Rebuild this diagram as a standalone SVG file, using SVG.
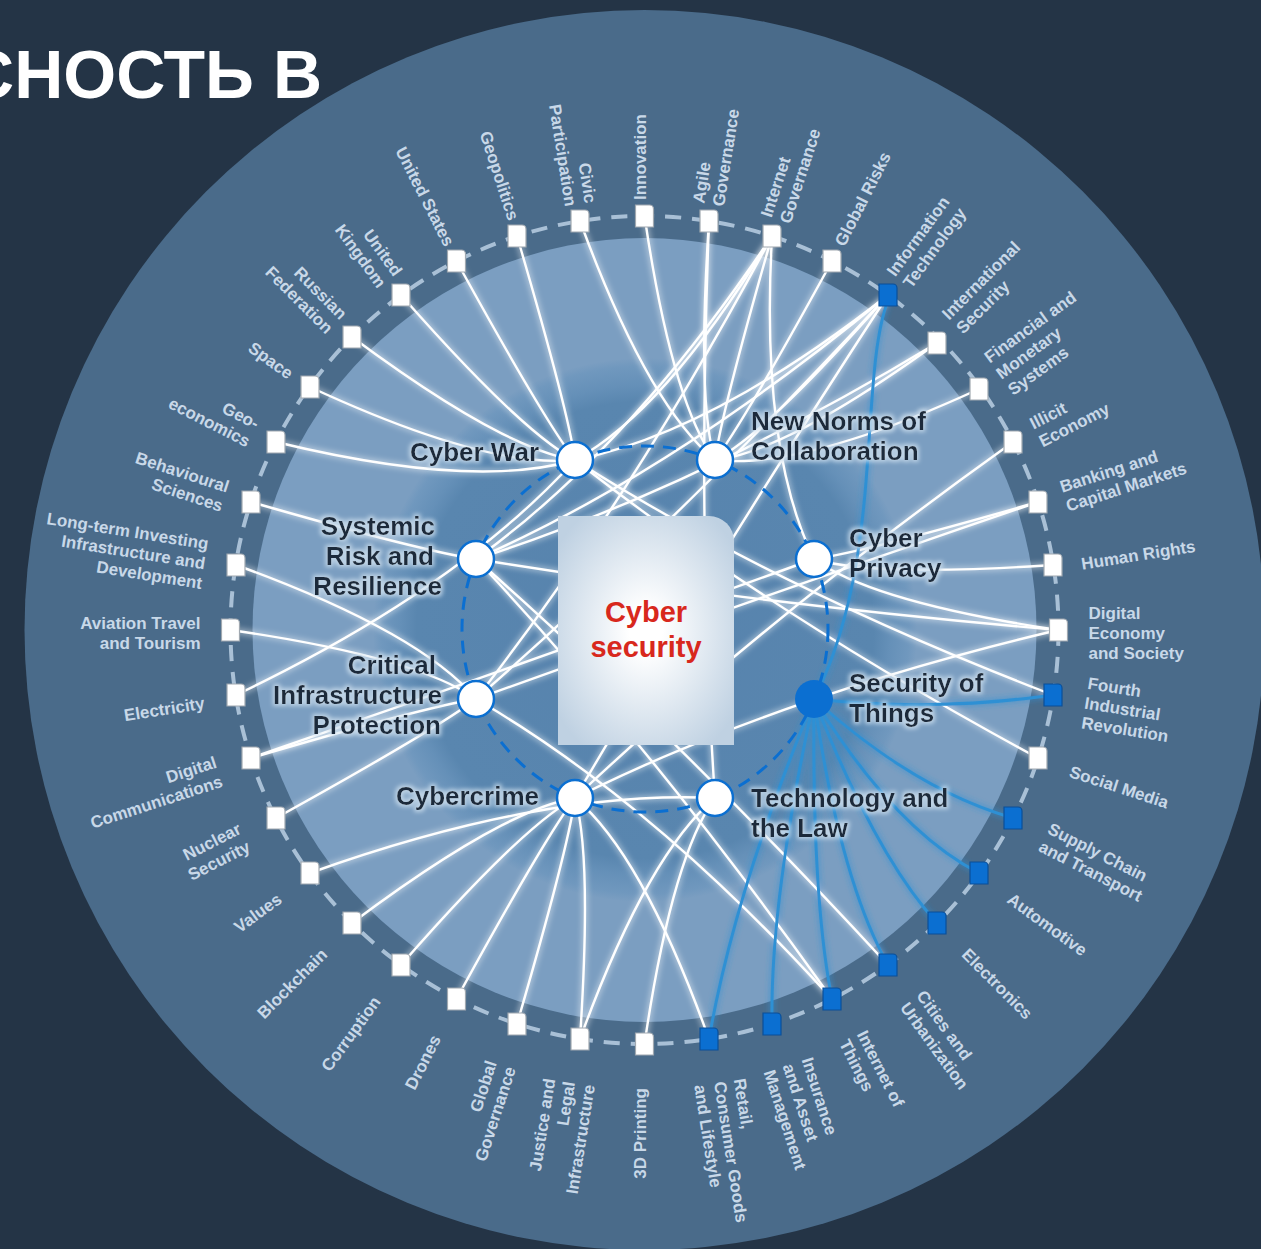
<svg xmlns="http://www.w3.org/2000/svg" width="1261" height="1249" viewBox="0 0 1261 1249">
<defs>
<style>
.lbl{font-family:"Liberation Sans",Arial,sans-serif;font-weight:bold;font-size:17px;fill:#c8d8e8}
.l{text-anchor:end}
.hl{font-family:"Liberation Sans",Arial,sans-serif;font-weight:bold;font-size:26px;fill:#1d2a3a}
.hub{fill:#fff;stroke:#0b6fd1;stroke-width:2.5}
.sw{fill:#fff;stroke:#a0a8b0;stroke-width:1.2}
.sb{fill:#0b6fd1;stroke:#0b4f98;stroke-width:1.2}
.cw path{fill:none;stroke:#fff;stroke-width:2.4}
.cb path{fill:none;stroke:#2f90d4;stroke-width:3}
</style>
<path id="sq" d="M-9,-11 H5 A4,4 0 0 1 9,-7 V11 H-9 Z"/>
<radialGradient id="inner" cx="645" cy="630" r="272" gradientUnits="userSpaceOnUse">
<stop offset="0" stop-color="#5783ad"/>
<stop offset="0.84" stop-color="#5986af"/>
<stop offset="0.9" stop-color="#6590b8"/>
<stop offset="0.97" stop-color="#7098be"/>
<stop offset="1" stop-color="#7b9ec1"/>
</radialGradient>
<radialGradient id="card" cx="0.5" cy="0.5" r="0.62">
<stop offset="0.15" stop-color="#ffffff"/>
<stop offset="1" stop-color="#bfd1e2"/>
</radialGradient>
<filter id="glow" x="-5%" y="-5%" width="110%" height="110%">
<feGaussianBlur in="SourceGraphic" stdDeviation="3" result="b"/>
<feMerge><feMergeNode in="b"/><feMergeNode in="SourceGraphic"/></feMerge>
</filter>
<filter id="halo" x="-10%" y="-20%" width="120%" height="140%">
<feMorphology in="SourceAlpha" operator="dilate" radius="2" result="d"/>
<feGaussianBlur in="d" stdDeviation="2" result="db"/>
<feFlood flood-color="#c9dcec" flood-opacity="0.85"/>
<feComposite in2="db" operator="in" result="h"/>
<feMerge><feMergeNode in="h"/><feMergeNode in="SourceGraphic"/></feMerge>
</filter>
</defs>

<rect width="1261" height="1249" fill="#243446"/>
<circle cx="644.5" cy="630" r="620" fill="#4a6b8a"/>
<circle cx="644.5" cy="630" r="392" fill="#7b9ec1"/>
<circle cx="645" cy="630" r="272" fill="url(#inner)"/>
<circle cx="644.5" cy="630" r="414" fill="none" stroke="#a9c0d6" stroke-width="4" stroke-dasharray="16 11"/>

<g id="connectors" filter="url(#glow)">
<g class="cw">
<path d="M580,221 Q647,404 715,460"/>
<path d="M644.5,216 Q672,402 715,460"/>
<path d="M709,221 Q697,404 715,460"/>
<path d="M709,221 Q697,536 715,798"/>
<path d="M772,236 Q667,410 575,460"/>
<path d="M772,236 Q629,449 476,559"/>
<path d="M772,236 Q629,503 476,699"/>
<path d="M772,236 Q760,449 814,559"/>
<path d="M772,236 Q722,410 715,460"/>
<path d="M832,261 Q745,420 715,460"/>
<path d="M888,295 Q712,433 575,460"/>
<path d="M888,295 Q767,433 715,460"/>
<path d="M888,295 Q674,472 476,559"/>
<path d="M888,295 Q674,526 476,699"/>
<path d="M888,295 Q712,565 575,798"/>
<path d="M937,343 Q786,452 715,460"/>
<path d="M937,343 Q693,490 476,559"/>
<path d="M979,389 Q803,470 715,460"/>
<path d="M1013,442 Q761,622 575,798"/>
<path d="M1038,502 Q864,552 814,559"/>
<path d="M1038,502 Q732,607 476,699"/>
<path d="M1053,565 Q870,577 814,559"/>
<path d="M1058,630 Q740,602 476,559"/>
<path d="M1058,630 Q872,602 814,559"/>
<path d="M1058,630 Q779,696 575,798"/>
<path d="M1053,695 Q777,589 575,460"/>
<path d="M1038,758 Q771,614 575,460"/>
<path d="M888,965 Q674,733 476,559"/>
<path d="M832,999 Q652,801 476,699"/>
<path d="M832,999 Q652,746 476,559"/>
<path d="M709,1039 Q643,855 575,798"/>
<path d="M644.5,1044 Q672,857 715,798"/>
<path d="M580,1039 Q592,855 575,798"/>
<path d="M580,1039 Q647,855 715,798"/>
<path d="M517,1024 Q568,849 575,798"/>
<path d="M456.5,999 Q544,839 575,798"/>
<path d="M401,965 Q522.5,826 575,798"/>
<path d="M352,923 Q503,810 575,798"/>
<path d="M310,873 Q542,790 715,798"/>
<path d="M276,818 Q435,730 476,699"/>
<path d="M251,758 Q425,707 476,699"/>
<path d="M251,758 Q557,652 814,559"/>
<path d="M236,695 Q458,589 575,460"/>
<path d="M230.5,630 Q417,657 476,699"/>
<path d="M236,565 Q420,632 476,699"/>
<path d="M251,502 Q425,552 476,559"/>
<path d="M276,442 Q474,490 575,460"/>
<path d="M310,387 Q487,469 575,460"/>
<path d="M352,337 Q503,449 575,460"/>
<path d="M401,295 Q522.5,433 575,460"/>
<path d="M456.5,261 Q544,420 575,460"/>
<path d="M517,236 Q568,410 575,460"/>
</g>
<g class="cb">
<path d="M888,300 C858,380 885,560 814,699"/>
<path d="M814,699 Q935,712 1053,695"/>
<path d="M814,699 Q915,790 1013,818"/>
<path d="M814,699 Q895,830 979,873"/>
<path d="M814,699 Q875,855 937,923"/>
<path d="M814,699 Q840,880 888,965"/>
<path d="M814,699 Q812,900 832,999"/>
<path d="M814,699 Q770,900 772,1024"/>
<path d="M814,699 Q735,890 709,1039"/>
</g>
</g>

<circle cx="645" cy="629" r="183" fill="none" stroke="#0b6fd1" stroke-width="3" stroke-dasharray="13 9"/>

<g id="cybersecurity">
<path d="M558,516 H709 A25,25 0 0 1 734,541 V745 H558 Z" fill="url(#card)"/>
<text x="646" y="622" text-anchor="middle" font-family="Liberation Sans, Arial, sans-serif" font-weight="bold" font-size="29" fill="#d8281d">Cyber</text>
<text x="646" y="657" text-anchor="middle" font-family="Liberation Sans, Arial, sans-serif" font-weight="bold" font-size="29" fill="#d8281d">security</text>
</g>

<g id="hub-cyber-war"><circle cx="575" cy="460" r="18" class="hub"/><text class="hl" filter="url(#halo)" x="539" y="461" text-anchor="end">Cyber War</text></g>
<g id="hub-new-norms"><circle cx="715" cy="460" r="18" class="hub"/><text class="hl" filter="url(#halo)"><tspan x="751" y="430">New Norms of</tspan><tspan x="751" y="460">Collaboration</tspan></text></g>
<g id="hub-systemic-risk"><circle cx="476" cy="559" r="18" class="hub"/><text class="hl" filter="url(#halo)" text-anchor="end"><tspan x="435" y="535">Systemic</tspan><tspan x="434" y="565">Risk and</tspan><tspan x="442" y="595">Resilience</tspan></text></g>
<g id="hub-cyber-privacy"><circle cx="814" cy="559" r="18" class="hub"/><text class="hl" filter="url(#halo)"><tspan x="849" y="547">Cyber</tspan><tspan x="849" y="577">Privacy</tspan></text></g>
<g id="hub-critical-infrastructure"><circle cx="476" cy="699" r="18" class="hub"/><text class="hl" filter="url(#halo)" text-anchor="end"><tspan x="436" y="674">Critical</tspan><tspan x="442" y="704">Infrastructure</tspan><tspan x="441" y="734">Protection</tspan></text></g>
<g id="hub-security-of-things"><circle cx="814" cy="699" r="19" fill="#0b6fd1"/><text class="hl" filter="url(#halo)"><tspan x="849" y="692">Security of</tspan><tspan x="849" y="722">Things</tspan></text></g>
<g id="hub-cybercrime"><circle cx="575" cy="798" r="18" class="hub"/><text class="hl" filter="url(#halo)" x="539" y="805" text-anchor="end">Cybercrime</text></g>
<g id="hub-technology-law"><circle cx="715" cy="798" r="18" class="hub"/><text class="hl" filter="url(#halo)"><tspan x="751" y="807">Technology and</tspan><tspan x="751" y="837">the Law</tspan></text></g>

<g id="n-innovation"><use href="#sq" x="644.5" y="216" class="sw"/><text class="lbl" transform="rotate(-90 644.5 638)" x="1082.5" y="639">Innovation</text></g>
<g id="n-agile-governance"><use href="#sq" x="709" y="221" class="sw"/><text class="lbl" transform="rotate(-81 644.5 638)"><tspan x="1082.6" y="629">Agile</tspan><tspan x="1082.6" y="649">Governance</tspan></text></g>
<g id="n-internet-governance"><use href="#sq" x="772" y="236" class="sw"/><text class="lbl" transform="rotate(-72 644.5 638)"><tspan x="1082.8" y="629">Internet</tspan><tspan x="1082.8" y="649">Governance</tspan></text></g>
<g id="n-global-risks"><use href="#sq" x="832" y="261" class="sw"/><text class="lbl" transform="rotate(-63 644.5 638)" x="1083.2" y="639">Global Risks</text></g>
<g id="n-information-technology"><use href="#sq" x="888" y="295" class="sb"/><text class="lbl" transform="rotate(-54 644.5 638)"><tspan x="1083.6" y="629">Information</tspan><tspan x="1083.6" y="649">Technology</tspan></text></g>
<g id="n-international-security"><use href="#sq" x="937" y="343" class="sw"/><text class="lbl" transform="rotate(-45 644.5 638)"><tspan x="1084.3" y="629">International</tspan><tspan x="1084.3" y="649">Security</tspan></text></g>
<g id="n-financial"><use href="#sq" x="979" y="389" class="sw"/><text class="lbl" transform="rotate(-36 644.5 638)"><tspan x="1085" y="619">Financial and</tspan><tspan x="1085" y="639">Monetary</tspan><tspan x="1085" y="659">Systems</tspan></text></g>
<g id="n-illicit-economy"><use href="#sq" x="1013" y="442" class="sw"/><text class="lbl" transform="rotate(-27 644.5 638)"><tspan x="1085.8" y="629">Illicit</tspan><tspan x="1085.8" y="649">Economy</tspan></text></g>
<g id="n-banking"><use href="#sq" x="1038" y="502" class="sw"/><text class="lbl" transform="rotate(-18 644.5 638)"><tspan x="1086.6" y="629">Banking and</tspan><tspan x="1086.6" y="649">Capital Markets</tspan></text></g>
<g id="n-human-rights"><use href="#sq" x="1053" y="565" class="sw"/><text class="lbl" transform="rotate(-9 644.5 638)" x="1087.6" y="639">Human Rights</text></g>
<g id="n-digital-economy"><use href="#sq" x="1058.5" y="630" class="sw"/><text class="lbl"><tspan x="1088.5" y="619">Digital</tspan><tspan x="1088.5" y="639">Economy</tspan><tspan x="1088.5" y="659">and Society</tspan></text></g>
<g id="n-fourth-industrial"><use href="#sq" x="1053" y="695" class="sb"/><text class="lbl" transform="rotate(9 644.5 638)"><tspan x="1089.4" y="619">Fourth</tspan><tspan x="1089.4" y="639">Industrial</tspan><tspan x="1089.4" y="659">Revolution</tspan></text></g>
<g id="n-social-media"><use href="#sq" x="1038" y="758" class="sw"/><text class="lbl" transform="rotate(18 644.5 638)" x="1090.4" y="639">Social Media</text></g>
<g id="n-supply-chain"><use href="#sq" x="1013" y="818" class="sb"/><text class="lbl" transform="rotate(27 644.5 638)"><tspan x="1091.2" y="629">Supply Chain</tspan><tspan x="1091.2" y="649">and Transport</tspan></text></g>
<g id="n-automotive"><use href="#sq" x="979" y="873" class="sb"/><text class="lbl" transform="rotate(36 644.5 638)" x="1092" y="639">Automotive</text></g>
<g id="n-electronics"><use href="#sq" x="937" y="923" class="sb"/><text class="lbl" transform="rotate(45 644.5 638)" x="1092.7" y="639">Electronics</text></g>
<g id="n-cities"><use href="#sq" x="888" y="965" class="sb"/><text class="lbl" transform="rotate(54 644.5 638)"><tspan x="1093.4" y="629">Cities and</tspan><tspan x="1093.4" y="649">Urbanization</tspan></text></g>
<g id="n-iot"><use href="#sq" x="832" y="999" class="sb"/><text class="lbl" transform="rotate(63 644.5 638)"><tspan x="1093.8" y="629">Internet of</tspan><tspan x="1093.8" y="649">Things</tspan></text></g>
<g id="n-insurance"><use href="#sq" x="772" y="1024" class="sb"/><text class="lbl" transform="rotate(72 644.5 638)"><tspan x="1094.2" y="619">Insurance</tspan><tspan x="1094.2" y="639">and Asset</tspan><tspan x="1094.2" y="659">Management</tspan></text></g>
<g id="n-retail"><use href="#sq" x="709" y="1039" class="sb"/><text class="lbl" transform="rotate(81 644.5 638)"><tspan x="1094.4" y="619">Retail,</tspan><tspan x="1094.4" y="639">Consumer Goods</tspan><tspan x="1094.4" y="659">and Lifestyle</tspan></text></g>
<g id="n-3d-printing"><use href="#sq" x="644.5" y="1044" class="sw"/><text class="lbl l" transform="rotate(-90 644.5 638)" x="194.5" y="639">3D Printing</text></g>
<g id="n-justice"><use href="#sq" x="580" y="1039" class="sw"/><text class="lbl l" transform="rotate(-81 644.5 638)"><tspan x="194.6" y="619">Justice and</tspan><tspan x="194.6" y="639">Legal</tspan><tspan x="194.6" y="659">Infrastructure</tspan></text></g>
<g id="n-global-governance"><use href="#sq" x="517" y="1024" class="sw"/><text class="lbl l" transform="rotate(-72 644.5 638)"><tspan x="194.8" y="629">Global</tspan><tspan x="194.8" y="649">Governance</tspan></text></g>
<g id="n-drones"><use href="#sq" x="456.5" y="999" class="sw"/><text class="lbl l" transform="rotate(-63 644.5 638)" x="195.2" y="639">Drones</text></g>
<g id="n-corruption"><use href="#sq" x="401" y="965" class="sw"/><text class="lbl l" transform="rotate(-54 644.5 638)" x="195.6" y="639">Corruption</text></g>
<g id="n-blockchain"><use href="#sq" x="352" y="923" class="sw"/><text class="lbl l" transform="rotate(-45 644.5 638)" x="196.3" y="639">Blockchain</text></g>
<g id="n-values"><use href="#sq" x="310" y="873" class="sw"/><text class="lbl l" transform="rotate(-36 644.5 638)" x="197" y="639">Values</text></g>
<g id="n-nuclear-security"><use href="#sq" x="276" y="818" class="sw"/><text class="lbl l" transform="rotate(-27 644.5 638)"><tspan x="197.8" y="629">Nuclear</tspan><tspan x="197.8" y="649">Security</tspan></text></g>
<g id="n-digital-communications"><use href="#sq" x="251" y="758" class="sw"/><text class="lbl l" transform="rotate(-18 644.5 638)"><tspan x="198.6" y="629">Digital</tspan><tspan x="198.6" y="649">Communications</tspan></text></g>
<g id="n-electricity"><use href="#sq" x="236" y="695" class="sw"/><text class="lbl l" transform="rotate(-9 644.5 638)" x="199.6" y="639">Electricity</text></g>
<g id="n-aviation"><use href="#sq" x="230.5" y="630" class="sw"/><text class="lbl l"><tspan x="200.5" y="629">Aviation Travel</tspan><tspan x="200.5" y="649">and Tourism</tspan></text></g>
<g id="n-long-term-investing"><use href="#sq" x="236" y="565" class="sw"/><text class="lbl l" transform="rotate(9 644.5 638)"><tspan x="199" y="619">Long-term Investing</tspan><tspan x="199" y="639">Infrastructure and</tspan><tspan x="199" y="659">Development</tspan></text></g>
<g id="n-behavioural"><use href="#sq" x="251" y="502" class="sw"/><text class="lbl l" transform="rotate(18 644.5 638)"><tspan x="202.4" y="629">Behavioural</tspan><tspan x="202.4" y="649">Sciences</tspan></text></g>
<g id="n-geo-economics"><use href="#sq" x="276" y="442" class="sw"/><text class="lbl l" transform="rotate(27 644.5 638)"><tspan x="203.2" y="629">Geo-</tspan><tspan x="203.2" y="649">economics</tspan></text></g>
<g id="n-space"><use href="#sq" x="310" y="387" class="sw"/><text class="lbl l" transform="rotate(36 644.5 638)" x="204" y="639">Space</text></g>
<g id="n-russian-federation"><use href="#sq" x="352" y="337" class="sw"/><text class="lbl l" transform="rotate(45 644.5 638)"><tspan x="204.7" y="629">Russian</tspan><tspan x="204.7" y="649">Federation</tspan></text></g>
<g id="n-united-kingdom"><use href="#sq" x="401" y="295" class="sw"/><text class="lbl l" transform="rotate(54 644.5 638)"><tspan x="205.4" y="629">United</tspan><tspan x="205.4" y="649">Kingdom</tspan></text></g>
<g id="n-united-states"><use href="#sq" x="456.5" y="261" class="sw"/><text class="lbl l" transform="rotate(63 644.5 638)" x="205.8" y="639">United States</text></g>
<g id="n-geopolitics"><use href="#sq" x="517" y="236" class="sw"/><text class="lbl l" transform="rotate(72 644.5 638)" x="206.2" y="639">Geopolitics</text></g>
<g id="n-civic-participation"><use href="#sq" x="580" y="221" class="sw"/><text class="lbl l" transform="rotate(81 644.5 638)"><tspan x="206.4" y="629">Civic</tspan><tspan x="206.4" y="649">Participation</tspan></text></g>

<text x="322" y="98" text-anchor="end" font-family="Liberation Sans, Arial, sans-serif" font-weight="bold" font-size="68" fill="#ffffff">СНОСТЬ В</text>
</svg>
